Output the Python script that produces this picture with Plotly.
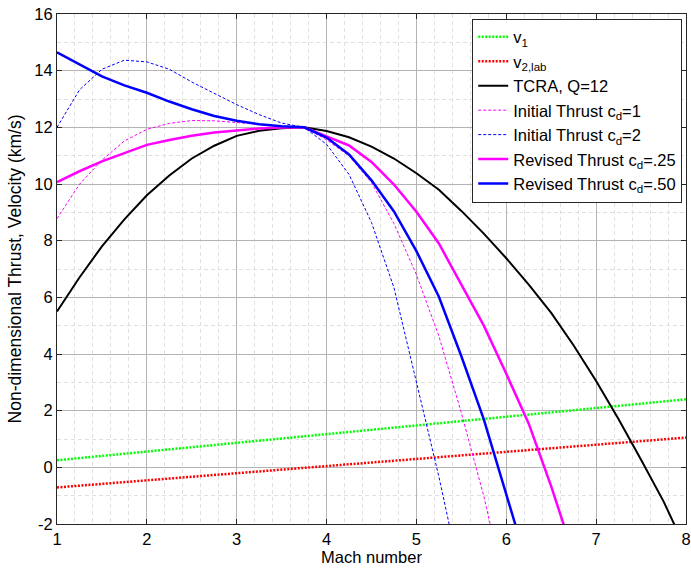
import plotly.graph_objects as go

mach = [1.0, 1.25, 1.5, 1.75, 2.0, 2.25, 2.5, 2.75, 3.0, 3.25, 3.5, 3.75, 4.0, 4.25, 4.5,
        4.75, 5.0, 5.25, 5.5, 5.75, 6.0, 6.25, 6.5, 6.75, 7.0, 7.25, 7.5, 7.75, 8.0]

mach_lin = [1, 2, 3, 4, 5, 6, 7, 8]
v1 = [0.25, 0.56, 0.86, 1.17, 1.48, 1.79, 2.10, 2.40]
v2_lab = [-0.71, -0.46, -0.21, 0.05, 0.30, 0.55, 0.80, 1.05]

tcra = [5.5, 6.7, 7.8, 8.75, 9.6, 10.3, 10.9, 11.35, 11.7, 11.88, 11.97, 12.0, 11.87, 11.65, 11.32,
        10.9, 10.38, 9.8, 9.05, 8.25, 7.38, 6.45, 5.45, 4.3, 3.05, 1.7, 0.27, -1.2, -2.9]
init_cd1 = [8.78, 9.99, 10.84, 11.52, 11.93, 12.14, 12.24, 12.23, 12.17, 12.09, 12.03, 12.0, 11.56, 10.99, 10.05,
            8.6, 6.8, 4.63, 1.92, -1.02, -4.5, None, None, None, None, None, None, None, None]
init_cd2 = [12.0, 13.32, 14.05, 14.37, 14.31, 14.05, 13.6, 13.2, 12.8, 12.45, 12.15, 12.0, 11.4, 10.34, 8.64,
            6.34, 3.0, -0.33, -4.0, None, None, None, None, None, None, None, None, None, None]
rev_cd25 = [10.07, 10.45, 10.8, 11.1, 11.38, 11.55, 11.7, 11.82, 11.9, 11.96, 11.99, 12.0, 11.68, 11.36, 10.78,
            9.98, 9.02, 7.9, 6.45, 5.0, 3.3, 1.54, -0.67, -3.1, None, None, None, None, None]
rev_cd50 = [14.65, 14.22, 13.8, 13.48, 13.22, 12.91, 12.64, 12.4, 12.23, 12.11, 12.04, 12.0, 11.64, 11.04, 10.13,
            9.03, 7.63, 6.02, 3.92, 1.69, -0.9, -3.6, None, None, None, None, None, None, None]

x_ticks = [1, 2, 3, 4, 5, 6, 7, 8]
y_ticks = [-2, 0, 2, 4, 6, 8, 10, 12, 14, 16]

FONT = "Liberation Sans, Arial, sans-serif"

fig = go.Figure()
fig.add_trace(go.Scatter(x=mach_lin, y=v1, mode="lines", name="v<sub>1</sub>",
                         line=dict(color="#00ff00", width=2.5, dash="2px,1.5px")))
fig.add_trace(go.Scatter(x=mach_lin, y=v2_lab, mode="lines", name="v<sub>2,lab</sub>",
                         line=dict(color="#ff0000", width=2.5, dash="2px,1.5px")))
fig.add_trace(go.Scatter(x=mach, y=tcra, mode="lines", name="TCRA, Q=12",
                         line=dict(color="#000000", width=2)))
fig.add_trace(go.Scatter(x=mach, y=init_cd1, mode="lines", name="Initial Thrust c<sub>d</sub>=1",
                         line=dict(color="#ff00ff", width=1, dash="3px,2px")))
fig.add_trace(go.Scatter(x=mach, y=init_cd2, mode="lines", name="Initial Thrust c<sub>d</sub>=2",
                         line=dict(color="#0000ff", width=1, dash="3px,2px")))
fig.add_trace(go.Scatter(x=mach, y=rev_cd25, mode="lines", name="Revised Thrust c<sub>d</sub>=.25",
                         line=dict(color="#ff00ff", width=2.5)))
fig.add_trace(go.Scatter(x=mach, y=rev_cd50, mode="lines", name="Revised Thrust c<sub>d</sub>=.50",
                         line=dict(color="#0000ff", width=2.5)))

fig.update_layout(
    width=691, height=570,
    margin=dict(l=57, r=5, t=14, b=46, autoexpand=False),
    paper_bgcolor="white", plot_bgcolor="white",
    font=dict(family=FONT, size=16, color="black"),
    showlegend=True,
    legend=dict(x=0.994, y=0.991, xanchor="right", yanchor="top",
                bgcolor="white", bordercolor="#262626", borderwidth=1,
                font=dict(family=FONT, size=16.5), tracegroupgap=0, itemwidth=30),
)
fig.update_xaxes(
    range=[1, 8], tickvals=x_ticks, ticktext=[str(v) for v in x_ticks],
    showgrid=True, gridcolor="#b4b4b4", gridwidth=1, automargin=False,
    showline=True, linecolor="#262626", linewidth=1, mirror="ticks",
    ticks="inside", ticklen=5, tickcolor="#262626", zeroline=False,
    minor=dict(dtick=0.2, showgrid=True, gridcolor="#e0e0e0", griddash="4px,3px", gridwidth=1),
    title=dict(text="Mach number", font=dict(family=FONT, size=16.5), standoff=2),
    tickfont=dict(family=FONT, size=16.5),
)
fig.update_yaxes(
    range=[-2, 16], tickvals=y_ticks, ticktext=[str(v) for v in y_ticks],
    showgrid=True, gridcolor="#b4b4b4", gridwidth=1, automargin=False,
    showline=True, linecolor="#262626", linewidth=1, mirror="ticks",
    ticks="inside", ticklen=5, tickcolor="#262626", zeroline=False,
    minor=dict(dtick=1, showgrid=True, gridcolor="#e0e0e0", griddash="4px,3px", gridwidth=1),
    title=dict(text="Non-dimensional Thrust, Velocity (km/s)", font=dict(family=FONT, size=17.5), standoff=8),
    tickfont=dict(family=FONT, size=16.5),
)

fig.write_html("out.html")
